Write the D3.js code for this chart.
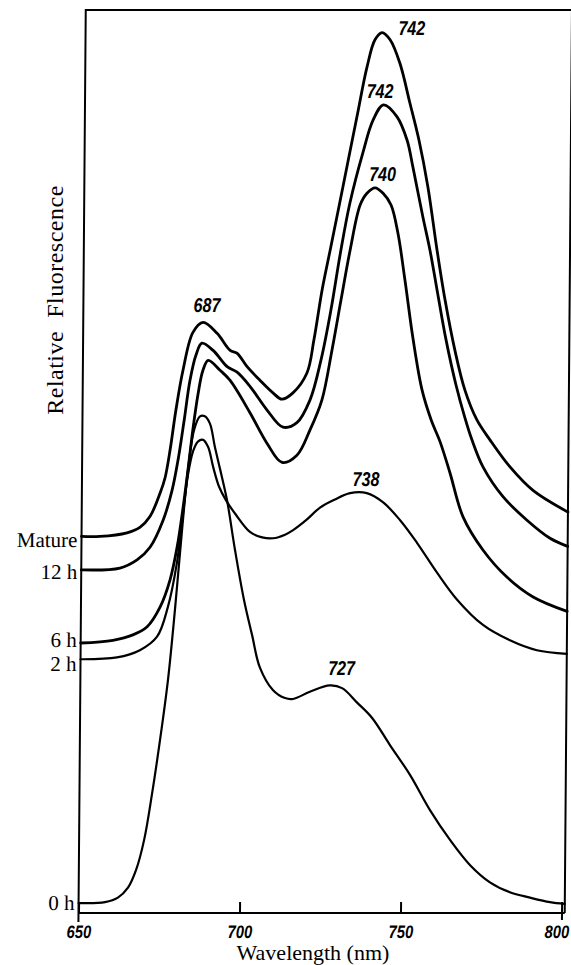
<!DOCTYPE html>
<html>
<head>
<meta charset="utf-8">
<script src="https://cdn.jsdelivr.net/npm/d3@7"></script>
<style>
  html, body { margin: 0; padding: 0; background: #fff; }
  svg { display: block; }
</style>
</head>
<body>
<div id="chart"></div>
<script>
// ---------------- DATA ----------------
const seriesNames = ["Mature", "12 h", "6 h", "2 h", "0 h"];

const matureWl  = [650, 655.7, 664.1, 668.1, 671.2, 674.3, 675.8, 677.3, 679.0, 681.1, 684.1, 687.2, 691.6, 695.7, 697.8, 701.0, 705.0, 709.1, 711.9, 715.3, 719.6, 721.7, 724.1, 726.5, 730.3, 734.5, 737.5, 739.9, 742.1, 744.6, 747.7, 750.9, 753.8, 756.7, 759.7, 762.3, 765.5, 768.7, 772.5, 776.6, 782.9, 790.1, 801];
const matureVal = [41.7, 41.7, 42.1, 42.7, 43.9, 46.5, 48.2, 51.3, 55.7, 60.1, 64.3, 65.4, 64.2, 62.3, 62.0, 60.5, 59.0, 57.6, 56.9, 57.6, 59.8, 63.5, 69.0, 73.4, 80.4, 88.2, 93.7, 96.7, 97.5, 96.7, 94.1, 89.7, 85.6, 80.4, 73.4, 67.9, 62.3, 57.9, 54.6, 52.4, 49.4, 46.8, 44.4];

const h12Wl  = [650, 662.0, 667.3, 671.3, 675.3, 678.0, 679.8, 681.6, 683.3, 685.1, 686.9, 690.4, 694.8, 697.9, 702.0, 707.3, 712.3, 716.6, 720.6, 723.9, 726.9, 729.6, 732.5, 736.5, 739.5, 742.7, 746.9, 750.1, 752.0, 755.2, 757.5, 759.8, 762.7, 765.9, 768.8, 771.0, 774.5, 780.8, 788.3, 795.5, 801];
const h12Val = [38.0, 38.2, 39.1, 40.5, 43.5, 46.8, 50.2, 54.6, 59.0, 61.8, 63.1, 62.3, 60.5, 59.9, 58.3, 55.7, 53.8, 54.3, 56.8, 61.2, 66.8, 72.9, 78.6, 84.3, 87.8, 89.5, 88.2, 85.6, 82.6, 77.1, 73.4, 69.0, 63.5, 58.5, 54.8, 52.4, 49.4, 46.1, 43.5, 41.5, 40.6];

const h6Wl  = [650, 660.0, 666.2, 670.6, 674.6, 677.6, 679.7, 681.5, 682.9, 684.3, 685.8, 687.3, 688.9, 692.6, 695.7, 702.0, 707.4, 712.1, 716.7, 720.7, 724.3, 727.3, 730.0, 732.7, 735.7, 737.8, 740.3, 742.8, 745.3, 747.5, 749.8, 752.5, 755.4, 758.3, 761.1, 764.3, 768.4, 774.7, 782.2, 790.4, 801];
const h6Val = [29.9, 30.2, 30.8, 31.7, 33.9, 36.9, 40.5, 45.0, 49.1, 53.5, 57.4, 60.1, 61.2, 60.1, 59.0, 55.4, 52.0, 49.9, 50.7, 53.5, 56.8, 62.3, 67.9, 73.4, 78.4, 79.7, 80.3, 79.7, 78.4, 75.3, 70.1, 63.5, 57.9, 54.6, 52.2, 48.7, 43.9, 40.2, 37.2, 35.0, 33.4];

const h2Wl  = [650, 661.3, 668.4, 673.7, 677.0, 679.7, 681.5, 682.9, 684.4, 685.9, 687.5, 689.1, 690.7, 692.6, 694.8, 697.9, 702.3, 706.1, 709.5, 713.2, 715.7, 719.7, 724.0, 728.6, 733.3, 738.5, 743.5, 748.9, 754.2, 760.5, 766.8, 774.9, 783.3, 791.7, 801];
const h2Val = [28.1, 28.3, 29.1, 30.6, 33.9, 38.8, 44.3, 48.5, 51.1, 52.2, 52.4, 51.6, 49.4, 47.2, 45.7, 44.1, 42.2, 41.6, 41.5, 41.9, 42.4, 43.5, 44.9, 45.8, 46.5, 46.5, 45.5, 43.5, 41.0, 37.7, 34.7, 31.9, 30.2, 29.1, 28.7];

const h0Wl  = [650, 658.2, 662.2, 665.3, 667.8, 670.2, 672.5, 674.9, 677.2, 679.2, 681.2, 682.9, 684.7, 686.5, 688.0, 689.6, 691.2, 692.9, 695.1, 697.7, 700.6, 703.2, 705.7, 709.8, 713.6, 716.1, 721.3, 727.5, 731.3, 736.0, 740.7, 746.3, 752.6, 758.9, 765.2, 771.5, 777.7, 783.9, 790.2, 796.4, 801];
const h0Val = [1.1, 1.2, 1.7, 2.8, 4.8, 8.1, 13.1, 19.2, 25.8, 33.6, 42.4, 49.1, 53.5, 55.0, 55.0, 54.2, 51.6, 49.1, 45.7, 40.2, 34.7, 30.8, 27.2, 24.7, 23.8, 23.7, 24.5, 25.2, 24.9, 23.3, 21.6, 18.6, 15.3, 11.4, 8.1, 5.3, 3.4, 2.3, 1.7, 1.2, 1.0];

const xTicks = [650, 700, 750, 800];

const peakLabels   = ["742", "742", "740", "687", "738", "727"];
const peakLabelWl  = [751.3, 741.6, 742.6, 688.4, 738.2, 731.1];
const peakLabelVal = [98.0, 91.1, 81.9, 67.3, 48.1, 27.1];

const xTitle = "Wavelength (nm)";
const yTitle = "Relative  Fluorescence";

// ---------------- CHART ----------------
const W = 571, H = 965;
const svg = d3.select("#chart").append("svg")
  .attr("width", W).attr("height", H)
  .attr("viewBox", `0 0 ${W} ${H}`);

const x = d3.scaleLinear().domain([650, 800]).range([78.5, 561.5]);
const y = d3.scaleLinear().domain([0, 100]).range([913, 10]);
const xMax = 801;

const series = [
  { name: seriesNames[0], wl: matureWl, val: matureVal, w: 2.8, ldy: 11 },
  { name: seriesNames[1], wl: h12Wl, val: h12Val, w: 2.8, ldy: 9 },
  { name: seriesNames[2], wl: h6Wl, val: h6Val, w: 2.8, ldy: 4 },
  { name: seriesNames[3], wl: h2Wl, val: h2Val, w: 2.2, ldy: 12 },
  { name: seriesNames[4], wl: h0Wl, val: h0Val, w: 2.2, ldy: 7 }
];

// the scanned figure leans slightly: skew the plot about the x axis
const g = svg.append("g")
  .attr("transform", `translate(0,${y(0)}) skewX(-0.46) translate(0,${-y(0)})`);

// frame
g.append("path")
  .attr("d", `M${x(650)},${y(0) + 9} L${x(650)},${y(100)} L${x(xMax)},${y(100)} L${x(xMax)},${y(0)}`)
  .attr("fill", "none").attr("stroke", "#000").attr("stroke-width", 2);

// x axis
const axis = g.append("g").attr("transform", `translate(0,${y(0)})`)
  .call(d3.axisBottom(x).tickValues(xTicks).tickSize(-11).tickPadding(0).tickFormat(d3.format("d")));
axis.select(".domain").remove();
axis.append("line").attr("x1", x(650)).attr("x2", x(xMax)).attr("stroke", "#000").attr("stroke-width", 2);
axis.selectAll(".tick line").attr("stroke", "#000").attr("stroke-width", 2);
axis.selectAll(".tick text")
  .attr("fill", "#000")
  .attr("font-family", "Liberation Sans, Arial, sans-serif")
  .attr("font-style", "italic").attr("font-weight", "bold")
  .attr("font-size", 18)
  .attr("y", 25).attr("dy", 0)
  .attr("x", d => d === 800 ? -6 : 0)
  .attr("transform", "scale(0.82,1)");
// short outward tick at the right end
g.append("g").attr("transform", `translate(0,${y(0)})`)
  .call(d3.axisBottom(x).tickValues([800]).tickSize(7).tickFormat(""))
  .call(a => a.select(".domain").remove())
  .selectAll("line").attr("stroke", "#000").attr("stroke-width", 2);

// curves
const line = d3.line()
  .x(d => x(d[0])).y(d => y(d[1]))
  .curve(d3.curveCatmullRom.alpha(0.5));

g.selectAll(".curve").data(series).enter().append("path")
  .attr("class", "curve")
  .attr("d", s => line(s.wl.map((w, i) => [w, s.val[i]])))
  .attr("fill", "none").attr("stroke", "#000")
  .attr("stroke-width", s => s.w)
  .attr("stroke-linejoin", "round").attr("stroke-linecap", "round");

// series labels at left
g.selectAll(".slabel").data(series).enter().append("text")
  .attr("x", x(650) - 4)
  .attr("y", s => y(s.val[0]) + s.ldy)
  .attr("text-anchor", "end")
  .attr("font-family", "Liberation Serif, Times New Roman, serif")
  .attr("font-size", 21)
  .text(s => s.name);

// peak labels
g.selectAll(".plabel").data(peakLabels).enter().append("text")
  .attr("transform", (d, i) => `translate(${x(peakLabelWl[i])},${y(peakLabelVal[i])}) scale(0.8,1)`)
  .attr("dy", "0.36em")
  .attr("text-anchor", "middle")
  .attr("font-family", "Liberation Sans, Arial, sans-serif")
  .attr("font-style", "italic").attr("font-weight", "bold")
  .attr("font-size", 20)
  .text(d => d);

// titles
svg.append("text")
  .attr("x", 313).attr("y", 960)
  .attr("text-anchor", "middle")
  .attr("font-family", "Liberation Serif, Times New Roman, serif")
  .attr("font-size", 22)
  .text(xTitle);

svg.append("text")
  .attr("transform", `translate(63,300) rotate(-90)`)
  .attr("text-anchor", "middle")
  .attr("font-family", "Liberation Serif, Times New Roman, serif")
  .attr("font-size", 24)
  .attr("letter-spacing", 0.5)
  .style("white-space", "pre")
  .text(yTitle);
</script>
</body>
</html>
